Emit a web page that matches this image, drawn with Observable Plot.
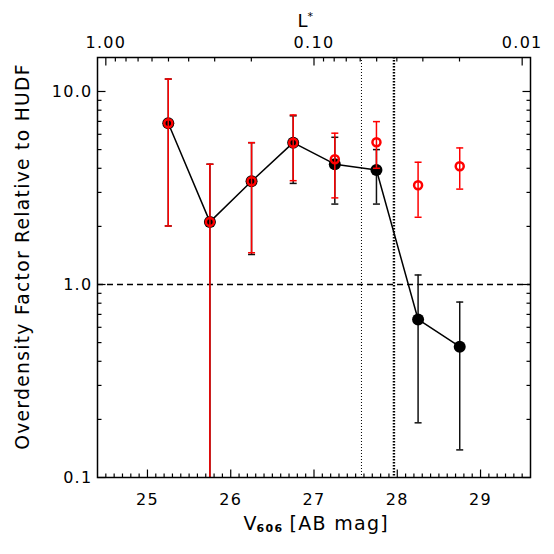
<!DOCTYPE html>
<html><head><meta charset="utf-8">
<script src="https://cdn.jsdelivr.net/npm/d3@7"></script>
<script src="https://cdn.jsdelivr.net/npm/@observablehq/plot@0.6"></script>
<style>
body{margin:0;background:#fff}
svg text{letter-spacing:1.3px}
</style></head><body><div id="chart"></div>
<script>
// ---- data ----
const mags    = [25.25, 25.75, 26.25, 26.75, 27.25, 27.75, 28.25, 28.75];
const blackVal = [6.85, 2.11, 3.43, 5.43, 4.20, 3.92, 0.659, 0.476];
const blackLo  = [2.01, 0.08, 1.43, 3.34, 2.61, 2.61, 0.192, 0.139];
const blackHi  = [11.6, 4.20, 5.43, 7.48, 5.79, 5.00, 1.12, 0.811];
const redVal   = [6.85, 2.11, 3.43, 5.43, 4.46, 5.46, 3.27, 4.10];
const redLo    = [2.01, 0.08, 1.46, 3.45, 2.81, 4.00, 2.23, 3.12];
const redHi    = [11.6, 4.20, 5.43, 7.56, 6.08, 6.98, 4.30, 5.10];
const limitMags = [27.57, 27.96];
const xTicks = [25, 26, 27, 28, 29];
const yTicks = [0.1, 1, 10];
const yTickLabels = ["0.1", "1.0", "10.0"];
const yMinor = [0.2,0.3,0.4,0.5,0.6,0.7,0.8,0.9,2,3,4,5,6,7,8,9];
const lTicks = [1, 0.1, 0.01];
const lTickLabels = ["1.00", "0.10", "0.01"];
const lMinor = [0.9,0.8,0.7,0.6,0.5,0.4,0.3,0.2,0.09,0.08,0.07,0.06,0.05,0.04,0.03,0.02];
const mStar = 24.5; // magnitude of L*
const xMinor = d3.range(245, 296).map(d => d / 10).filter(d => !Number.isInteger(d));

const magOfL = L => mStar - 2.5 * Math.log10(L);
const idx = d3.range(mags.length);
const yLabelOf = d => yTickLabels[yTicks.findIndex(t => Math.abs(t - d) < 1e-9)];

// ---- tick / cap symbols ----
const len = s => Math.sqrt(s / Math.PI);
const symUp = {draw(c, s){ c.moveTo(0,0); c.lineTo(0,-len(s)); }};
const symDown = {draw(c, s){ c.moveTo(0,0); c.lineTo(0,len(s)); }};
const symRight = {draw(c, s){ c.moveTo(0,0); c.lineTo(len(s),0); }};
const symLeft = {draw(c, s){ c.moveTo(0,0); c.lineTo(-len(s),0); }};
const symCap = {draw(c, s){ const l = len(s); c.moveTo(-l,0); c.lineTo(l,0); }};

const tickOpts = {fill: "none", stroke: "black", strokeWidth: 1.2};

const chart = Plot.plot({
  width: 554, height: 554,
  marginLeft: 97, marginRight: 24, marginTop: 57, marginBottom: 77,
  style: {fontFamily: "DejaVu Sans", fontSize: "16px", background: "white", color: "black"},
  x: {type: "linear", domain: [24.4, 29.6], axis: null},
  y: {type: "log", domain: [0.1, 15], axis: null},
  marks: [
    Plot.ruleY([1], {stroke: "black", strokeWidth: 1.3, strokeDasharray: "6,4"}),
    Plot.ruleX([limitMags[0]], {stroke: "black", strokeWidth: 1, strokeDasharray: "1,2"}),
    Plot.ruleX([limitMags[1]], {stroke: "black", strokeWidth: 2.4, strokeDasharray: "1.5,1.5"}),
    // black series
    Plot.ruleX(idx, {x: i => mags[i], y1: i => blackLo[i], y2: i => blackHi[i], stroke: "#111", strokeWidth: 1.5, clip: true}),
    Plot.dot(idx, {x: i => mags[i], y: i => blackHi[i], symbol: symCap, r: 3.5, fill: "none", stroke: "#111", strokeWidth: 1.5, clip: true}),
    Plot.dot(idx, {x: i => mags[i], y: i => blackLo[i], symbol: symCap, r: 3.5, fill: "none", stroke: "#111", strokeWidth: 1.5, clip: true}),
    Plot.line(idx, {x: i => mags[i], y: i => blackVal[i], stroke: "black", strokeWidth: 1.5}),
    Plot.dot(idx, {x: i => mags[i], y: i => blackVal[i], r: 6, fill: "black", stroke: "none"}),
    // red series
    Plot.ruleX(idx, {x: i => mags[i], y1: i => redLo[i], y2: i => redHi[i], stroke: "#ff0000", strokeWidth: 1.5, clip: true}),
    Plot.dot(idx, {x: i => mags[i], y: i => redHi[i], symbol: symCap, r: 3.5, fill: "none", stroke: "#ff0000", strokeWidth: 1.5, clip: true}),
    Plot.dot(idx, {x: i => mags[i], y: i => redLo[i], symbol: symCap, r: 3.5, fill: "none", stroke: "#ff0000", strokeWidth: 1.5, clip: true}),
    Plot.dot(idx, {x: i => mags[i], y: i => redVal[i], r: 4, fill: "none", stroke: "#ff0000", strokeWidth: 2.5}),
    Plot.frame({stroke: "black", strokeWidth: 1.5}),
    // bottom ticks
    Plot.dot(xTicks, {x: d => d, frameAnchor: "bottom", symbol: symUp, r: 8, ...tickOpts}),
    Plot.dot(xMinor, {x: d => d, frameAnchor: "bottom", symbol: symUp, r: 4, ...tickOpts}),
    // top ticks (L*)
    Plot.dot(lTicks, {x: magOfL, frameAnchor: "top", symbol: symDown, r: 8, ...tickOpts}),
    Plot.dot(lMinor, {x: magOfL, frameAnchor: "top", symbol: symDown, r: 4, ...tickOpts}),
    // left / right ticks
    Plot.dot(yTicks, {y: d => d, frameAnchor: "left", symbol: symRight, r: 8, ...tickOpts}),
    Plot.dot(yMinor, {y: d => d, frameAnchor: "left", symbol: symRight, r: 4, ...tickOpts}),
    Plot.dot(yTicks, {y: d => d, frameAnchor: "right", symbol: symLeft, r: 8, ...tickOpts}),
    Plot.dot(yMinor, {y: d => d, frameAnchor: "right", symbol: symLeft, r: 4, ...tickOpts}),
    // tick labels
    Plot.axisX({ticks: xTicks, tickSize: 0, tickPadding: 16, tickFormat: d => String(d), label: null, fontSize: 16}),
    Plot.text(yTicks, {y: d => d, text: yLabelOf, frameAnchor: "left", dx: -5, textAnchor: "end", lineAnchor: "middle", fontSize: 16}),
    Plot.text(lTicks, {x: magOfL, text: (d, i) => lTickLabels[i], frameAnchor: "top", dy: -15, lineAnchor: "middle", fontSize: 16}),
    // titles
    Plot.text(["L"], {frameAnchor: "top-left", dx: 200, dy: -36, lineAnchor: "middle", fontSize: 18}),
    Plot.text(["*"], {frameAnchor: "top-left", dx: 210, dy: -41, lineAnchor: "middle", fontSize: 11}),
    Plot.text(["Overdensity Factor Relative to HUDF"], {frameAnchor: "left", rotate: -90, dx: -74, dy: -11, textAnchor: "middle", lineAnchor: "middle", fontSize: 18.7}),
    Plot.text(["V"], {frameAnchor: "bottom-left", dx: 146, dy: 46, textAnchor: "start", lineAnchor: "middle", fontSize: 19}),
    Plot.text(["606"], {frameAnchor: "bottom-left", dx: 159, dy: 51, textAnchor: "start", lineAnchor: "middle", fontSize: 11, fontWeight: "bold"}),
    Plot.text(["[AB mag]"], {frameAnchor: "bottom-left", dx: 192, dy: 46, textAnchor: "start", lineAnchor: "middle", fontSize: 19})
  ]
});
document.getElementById("chart").appendChild(chart);
</script></body></html>
